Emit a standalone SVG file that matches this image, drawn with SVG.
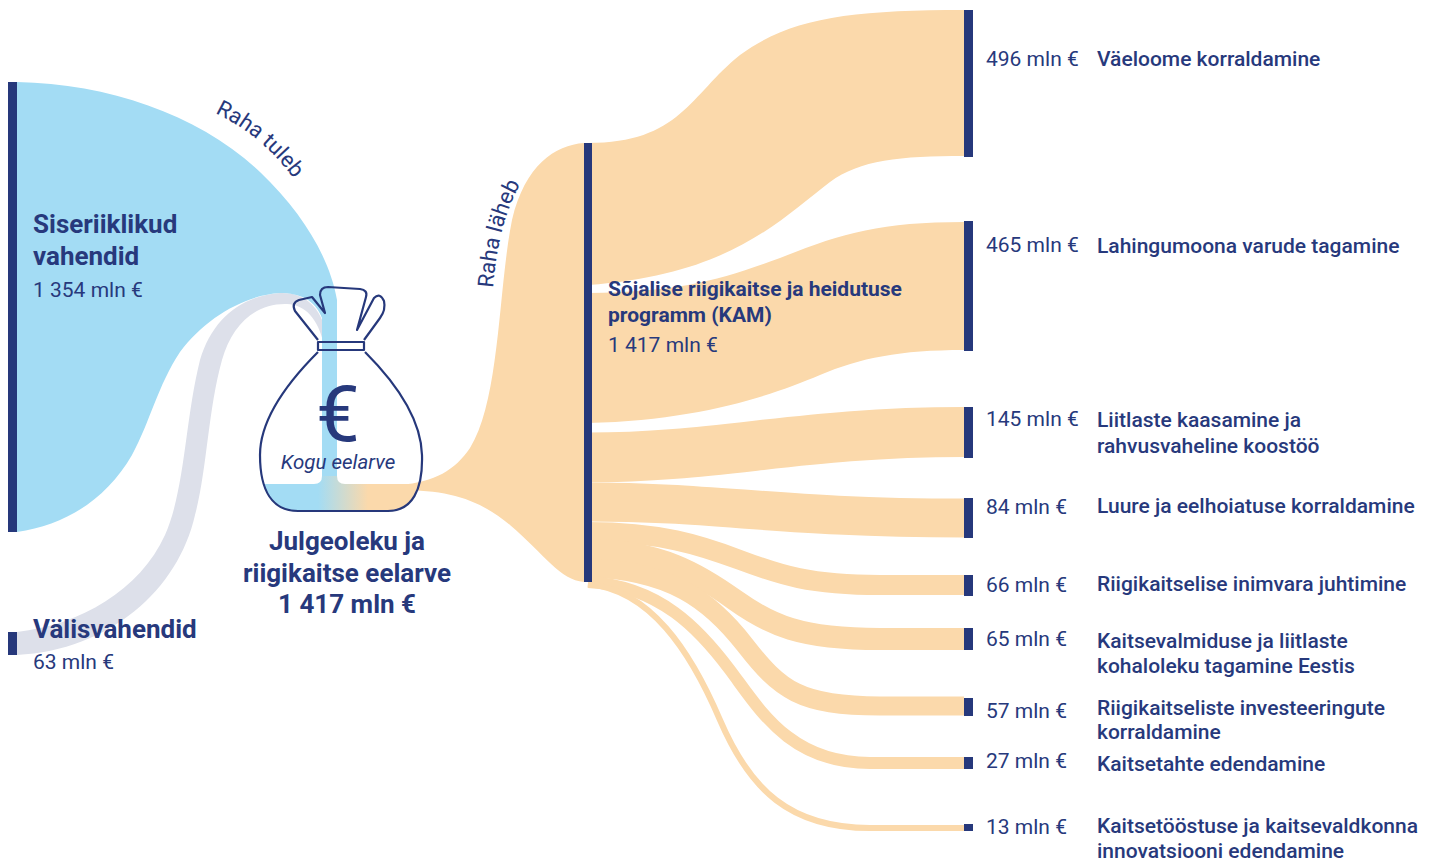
<svg xmlns="http://www.w3.org/2000/svg" width="1440" height="861" viewBox="0 0 1440 861">
<style>
.t{font-family:Roboto,"Liberation Sans",sans-serif;fill:#27397c}
.num{font-size:21px;font-weight:400}
.lbl{font-size:21px;font-weight:500}
.ttl{font-size:26px;font-weight:700}
.bar{fill:#26387b}
.or{fill:#fbd9ab}
.ors{fill:none;stroke:#fbd9ab}
.bag{fill:none;stroke:#26387b;stroke-width:2.2;stroke-linejoin:round}
</style>
<defs>
<linearGradient id="bagGrad" gradientUnits="userSpaceOnUse" x1="318" y1="0" x2="368" y2="0">
<stop offset="0" stop-color="#a3dcf4"/>
<stop offset="1" stop-color="#fbd9ab"/>
</linearGradient>
<clipPath id="bodyClip">
<path d="M318,352 C285,385 260,420 260,455 C260,490 272,511 298,511 L388,511 C412,511 423,490 422,455 C421,420 398,385 365,352 Z"/>
</clipPath>
<path id="tulebPath" d="M215,113 Q272,140 308,200"/>
<path id="lahebPath" d="M493,288 C497,238 508,196 536,160"/>
</defs>

<g id="connectors">
<!-- budget to KAM -->
<path class="or" d="M584,143 C555,145 525,165 512,220 C498,290 500,400 470,448 C455,470 435,482 400,485 L400,490 C450,490 480,500 510,525 C545,555 560,580 584,582 Z"/>
<!-- KAM to targets -->
<path class="or" d="M588,143 C680,143 690,95 740,55 C790,18 850,10 964,10 L964,156 C900,156 860,160 830,182 C780,220 730,275 588,285 Z"/>
<path class="or" d="M588,293 C680,292 720,280 780,258 C840,234 880,222 964,222 L964,350 C900,350 860,358 820,375 C770,396 700,420 588,423 Z"/>
<path class="ors" stroke-width="50" d="M588,457.5 C720,457.5 800,432 964,432"/>
<path class="ors" stroke-width="39" d="M588,502 C720,502 780,518 964,518"/>
<path class="ors" stroke-width="20" d="M588,532 C660,532 700,545 740,560 S810,585 880,585 L964,585"/>
<path class="ors" stroke-width="22" d="M588,550 C660,550 700,575 735,600 S800,639 880,639 L964,639"/>
<path class="ors" stroke-width="19" d="M588,568 C670,570 710,600 745,645 S800,706 880,706 L964,706"/>
<path class="ors" stroke-width="12" d="M588,582 C660,586 700,630 730,670 S790,763 870,763 L964,763"/>
<path class="ors" stroke-width="6" d="M588,584 C650,590 690,650 720,720 S790,828 870,828 L964,828"/>
<!-- external funds -->
<path fill="#dde0ea" d="M17,632 C80,625 140,590 165,535 C185,490 185,420 200,360 C212,320 240,296 280,293 C302,292 318,305 324,325 L324,345 C318,318 305,305 287,304 C255,303 232,325 222,360 C208,410 207,470 195,515 C178,590 110,650 17,655 Z"/>
<!-- domestic funds -->
<path fill="#a3dcf4" d="M17,82 C110,84 200,115 260,172 C305,215 330,260 337,300 L337,486 L322,486 L322,318 C315,300 300,293 280,293 C245,295 205,318 180,352 C158,385 150,422 132,455 C106,500 65,525 17,532 Z"/>
</g>

<g id="bag">
<path fill="url(#bagGrad)" clip-path="url(#bodyClip)" d="M250,484 L314,484 Q322,484 322,476 L337,476 Q337,484 345,484 L440,484 L440,520 L250,520 Z"/>
<path class="bag" d="M318,352 C285,385 260,420 260,455 C260,490 272,511 298,511 L388,511 C412,511 423,490 422,455 C421,420 398,385 365,352"/>
<rect class="bag" x="318" y="342" width="46" height="8"/>
<path class="bag" d="M318,340 L295,311 Q291,303 299,300 L312,297 L325,313 L320,295 Q320,287 328,287 L360,289 Q368,290 366,297 L357,330 L374,298 Q380,292 384,301 Q386,310 380,318 L364,340"/>
<text class="t" x="338" y="441" font-size="78" text-anchor="middle">€</text>
<text class="t" x="338" y="469" font-size="20.5" font-style="italic" text-anchor="middle">Kogu eelarve</text>
</g>

<g id="node-budget">
<text class="t ttl" text-anchor="middle"><tspan x="347" y="550">Julgeoleku ja</tspan><tspan x="347" y="582">riigikaitse eelarve</tspan><tspan x="347" y="613">1 417 mln €</tspan></text>
</g>

<g id="node-domestic">
<rect class="bar" x="8" y="82" width="9" height="450"/>
<text class="t ttl"><tspan x="33" y="233">Siseriiklikud</tspan><tspan x="33" y="265">vahendid</tspan></text>
<text class="t num" x="33" y="297">1 354 mln €</text>
</g>

<g id="node-external">
<rect class="bar" x="8" y="632" width="9" height="23"/>
<text class="t ttl" x="33" y="638">Välisvahendid</text>
<text class="t num" x="33" y="669">63 mln €</text>
</g>

<g id="flow-labels">
<text class="t" font-size="22"><textPath href="#tulebPath">Raha tuleb</textPath></text>
<text class="t" font-size="22"><textPath href="#lahebPath">Raha läheb</textPath></text>
</g>

<g id="node-kam">
<rect class="bar" x="584" y="143" width="8" height="439"/>
<text class="t" font-size="21" font-weight="700"><tspan x="608" y="296">Sõjalise riigikaitse ja heidutuse</tspan><tspan x="608" y="322">programm (KAM)</tspan></text>
<text class="t num" x="608" y="352">1 417 mln €</text>
</g>

<g id="node-t1">
<rect class="bar" x="964" y="10" width="9" height="147"/>
<text class="t num" x="986" y="66">496 mln €</text>
<text class="t lbl" x="1097" y="66">Väeloome korraldamine</text>
</g>
<g id="node-t2">
<rect class="bar" x="964" y="221" width="9" height="130"/>
<text class="t num" x="986" y="252">465 mln €</text>
<text class="t lbl" x="1097" y="253">Lahingumoona varude tagamine</text>
</g>
<g id="node-t3">
<rect class="bar" x="964" y="407" width="9" height="51"/>
<text class="t num" x="986" y="426">145 mln €</text>
<text class="t lbl"><tspan x="1097" y="427">Liitlaste kaasamine ja</tspan><tspan x="1097" y="453">rahvusvaheline koostöö</tspan></text>
</g>
<g id="node-t4">
<rect class="bar" x="964" y="498" width="9" height="40"/>
<text class="t num" x="986" y="514">84 mln €</text>
<text class="t lbl" x="1097" y="513">Luure ja eelhoiatuse korraldamine</text>
</g>
<g id="node-t5">
<rect class="bar" x="964" y="575" width="9" height="21"/>
<text class="t num" x="986" y="592">66 mln €</text>
<text class="t lbl" x="1097" y="591">Riigikaitselise inimvara juhtimine</text>
</g>
<g id="node-t6">
<rect class="bar" x="964" y="628" width="9" height="22"/>
<text class="t num" x="986" y="646">65 mln €</text>
<text class="t lbl"><tspan x="1097" y="648">Kaitsevalmiduse ja liitlaste</tspan><tspan x="1097" y="673">kohaloleku tagamine Eestis</tspan></text>
</g>
<g id="node-t7">
<rect class="bar" x="964" y="698" width="9" height="18"/>
<text class="t num" x="986" y="718">57 mln €</text>
<text class="t lbl"><tspan x="1097" y="715">Riigikaitseliste investeeringute</tspan><tspan x="1097" y="739">korraldamine</tspan></text>
</g>
<g id="node-t8">
<rect class="bar" x="964" y="757" width="9" height="12"/>
<text class="t num" x="986" y="768">27 mln €</text>
<text class="t lbl" x="1097" y="771">Kaitsetahte edendamine</text>
</g>
<g id="node-t9">
<rect class="bar" x="964" y="824" width="9" height="7"/>
<text class="t num" x="986" y="834">13 mln €</text>
<text class="t lbl"><tspan x="1097" y="833">Kaitsetööstuse ja kaitsevaldkonna</tspan><tspan x="1097" y="858">innovatsiooni edendamine</tspan></text>
</g>
</svg>
